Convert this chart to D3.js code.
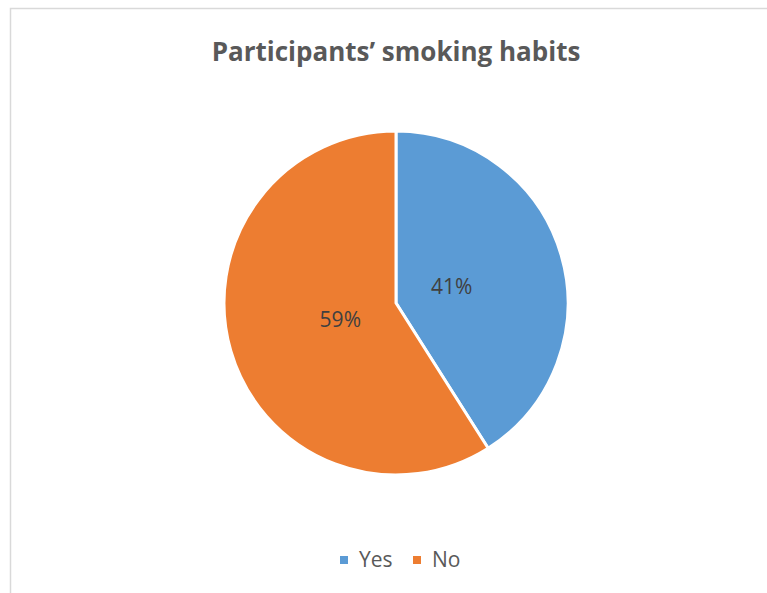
<!DOCTYPE html>
<html>
<head>
<meta charset="utf-8">
<script src="https://cdn.jsdelivr.net/npm/d3@7"></script>
<style>
  html, body { margin: 0; padding: 0; background: #ffffff; }
  svg { display: block; }
</style>
</head>
<body>
<svg id="chart" width="767" height="593"></svg>
<script>
// Smoking habits of participants (percent)
const categories = ["Yes", "No"];
const values = [41, 59];
const colors = ["#5b9bd5", "#ed7d31"];
const title = "Participants\u2019 smoking habits";

const svg = d3.select("#chart");
const W = 767, H = 593;
const font = "'Open Sans', 'Noto Sans', sans-serif";
const textColor = "#595959";

// chart area frame (continues past the right and bottom edges)
svg.append("rect")
  .attr("x", 10.5).attr("y", 8.5)
  .attr("width", W + 20).attr("height", H + 20)
  .attr("fill", "#ffffff")
  .attr("stroke", "#d9d9d9").attr("stroke-width", 1.5);

svg.append("text")
  .attr("x", 396).attr("y", 61)
  .attr("text-anchor", "middle")
  .attr("font-family", font)
  .attr("font-weight", "bold")
  .attr("font-size", 26)
  .attr("fill", textColor)
  .text(title);

const cx = 396, cy = 303, r = 172;
const color = d3.scaleOrdinal().domain(categories).range(colors);

const pie = d3.pie().sort(null).value(d => d.value);
const data = categories.map((c, i) => ({ name: c, value: values[i] }));
const arcs = pie(data);
const arc = d3.arc().innerRadius(0).outerRadius(r);
const labelArc = d3.arc().innerRadius(58).outerRadius(58);

const g = svg.append("g").attr("transform", `translate(${cx},${cy})`);

g.selectAll("path.slice")
  .data(arcs)
  .enter().append("path")
  .attr("class", "slice")
  .attr("d", arc)
  .attr("fill", d => color(d.data.name))
  .attr("stroke", "#ffffff")
  .attr("stroke-width", 3)
  .attr("stroke-linejoin", "round");

const total = d3.sum(values);
g.selectAll("text.pct")
  .data(arcs)
  .enter().append("text")
  .attr("class", "pct")
  .attr("transform", d => `translate(${labelArc.centroid(d)})`)
  .attr("text-anchor", "middle")
  .attr("dy", "0.35em")
  .attr("font-family", font)
  .attr("font-size", 21)
  .attr("fill", "#404040")
  .text(d => Math.round(d.data.value / total * 100) + "%");

// legend
const legend = svg.append("g").attr("transform", "translate(340,560)");
const legendX = [0, 73];
const items = legend.selectAll("g.item")
  .data(categories)
  .enter().append("g")
  .attr("class", "item")
  .attr("transform", (d, i) => `translate(${legendX[i]},0)`);
items.append("rect")
  .attr("x", 0).attr("y", -4)
  .attr("width", 8).attr("height", 8)
  .attr("fill", d => color(d));
items.append("text")
  .attr("x", 19).attr("y", 0)
  .attr("dy", "0.35em")
  .attr("font-family", font)
  .attr("font-size", 21)
  .attr("fill", textColor)
  .text(d => d);
</script>
</body>
</html>
